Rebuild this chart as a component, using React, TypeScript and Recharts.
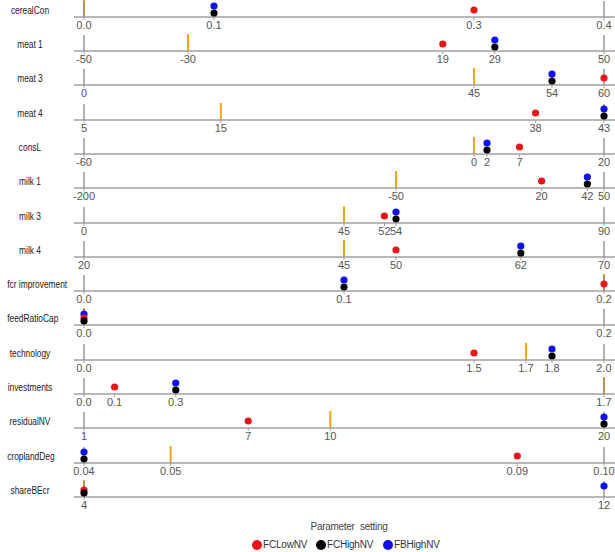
import React from 'react';
import { ScatterChart, Scatter, XAxis, YAxis, ReferenceLine } from 'recharts';

const parameters = ['cerealCon', 'meat 1', 'meat 3', 'meat 4', 'consL', 'milk 1', 'milk 3', 'milk 4', 'fcr improvement', 'feedRatioCap', 'technology', 'investments', 'residualNV', 'croplandDeg', 'shareBEcr'];
const rangeMin = [0, -50, 0, 5, -60, -200, 0, 20, 0, 0, 0, 0, 1, 0.04, 4];
const rangeMax = [0.4, 50, 60, 43, 20, 50, 90, 70, 0.2, 0.2, 2, 1.7, 20, 0.1, 12];
const baseline = [0, -30, 45, 15, 0, -50, 45, 45, 0.2, 0, 1.7, 1.7, 10, 0.05, 4];
const fcLowNV = [0.3, 19, 60, 38, 7, 20, 52, 50, 0.2, 0, 1.5, 0.1, 7, 0.09, 4];
const fcHighNV = [0.1, 29, 54, 43, 2, 42, 54, 62, 0.1, 0, 1.8, 0.3, 20, 0.04, 4];
const fbHighNV = [0.1, 29, 54, 43, 2, 42, 54, 62, 0.1, 0, 1.8, 0.3, 20, 0.04, 12];
const tickValues = [
  [0, 0.1, 0.3, 0.4],
  [-50, -30, 19, 29, 50],
  [0, 45, 54, 60],
  [5, 15, 38, 43],
  [-60, 0, 2, 7, 20],
  [-200, -50, 20, 42, 50],
  [0, 45, 52, 54, 90],
  [20, 45, 50, 62, 70],
  [0, 0.1, 0.2],
  [0, 0.2],
  [0, 1.5, 1.7, 1.8, 2],
  [0, 0.1, 0.3, 1.7],
  [1, 7, 10, 20],
  [0.04, 0.05, 0.09, 0.1],
  [4, 12],
];
const tickDecimals = [1, 0, 0, 0, 0, 0, 0, 0, 1, 1, 1, 1, 0, 2, 0];

const series = [
  { name: 'FBHighNV', values: fbHighNV, color: '#1111ee', level: 11 },
  { name: 'FCLowNV', values: fcLowNV, color: '#e8161b', level: 7 },
  { name: 'FCHighNV', values: fcHighNV, color: '#000000', level: 4 },
];
const legendOrder = ['FCLowNV', 'FCHighNV', 'FBHighNV'];
const legendItemWidths = [64, 67, 70];

const FONT = 'Liberation Sans, Arial, sans-serif';
const ROW0 = 16.7;
const ROWSTEP = 34.3;
const PLOT_H = 17;
const CHART_H = 40;

const EndTick = (p: any) => (
  <line x1={p.cx} x2={p.cx} y1={p.cy} y2={p.cy - 16} stroke="#8a8a8a" strokeWidth={1.3} />
);

function Row({ i }: { i: number }) {
  const lineY = ROW0 + i * ROWSTEP;
  const top = lineY - PLOT_H;
  const dec = tickDecimals[i];
  return (
    <>
      <div
        style={{
          position: 'absolute',
          left: 0,
          width: 60,
          top: lineY - 14,
          height: 14,
          lineHeight: '14px',
          textAlign: 'center',
          fontFamily: FONT,
          fontSize: 11,
          color: '#222',
          whiteSpace: 'nowrap',
          transform: 'scaleX(0.76)',
          transformOrigin: '30px 7px',
        }}
      >
        {parameters[i]}
      </div>
      <div style={{ position: 'absolute', left: 0, top }}>
        <ScatterChart width={615} height={CHART_H} margin={{ top: 0, right: 0, bottom: CHART_H - PLOT_H - 20, left: 74 }}>
          <XAxis
            type="number"
            dataKey="x"
            domain={[rangeMin[i], rangeMax[i]]}
            ticks={tickValues[i]}
            interval={0}
            padding={{ left: 10, right: 11 }}
            height={20}
            tickSize={3}
            tickMargin={1}
            stroke="#a0a0a0"
            axisLine={{ stroke: '#a0a0a0', strokeWidth: 1.5 }}
            tickLine={{ stroke: '#a0a0a0' }}
            tick={{ fill: '#555', fontSize: 11, fontFamily: FONT }}
            tickFormatter={(v: number) => Number(v).toFixed(dec)}
          />
          <YAxis type="number" dataKey="y" domain={[0, PLOT_H]} hide />
          <Scatter
            name="range"
            data={[{ x: rangeMin[i], y: 0 }, { x: rangeMax[i], y: 0 }]}
            isAnimationActive={false}
            shape={EndTick}
            legendType="none"
          />
          <ReferenceLine x={baseline[i]} stroke="#f5a416" strokeWidth={2} />
          {series.map((s) => (
            <Scatter
              key={s.name}
              name={s.name}
              data={[{ x: s.values[i], y: s.level }]}
              isAnimationActive={false}
              shape={(p: any) => <circle cx={p.cx} cy={p.cy} r={3.6} fill={s.color} />}
            />
          ))}
        </ScatterChart>
      </div>
    </>
  );
}

export default function App() {
  return (
    <div style={{ position: 'absolute', left: 0, top: 0, width: 615, height: 552, background: '#fff', overflow: 'hidden' }}>
      {parameters.map((_, i) => (
        <Row key={i} i={i} />
      ))}
      <div
        style={{
          position: 'absolute',
          left: 0,
          width: 698,
          top: 521,
          textAlign: 'center',
          fontFamily: FONT,
          fontSize: 10,
          letterSpacing: -0.3,
          color: '#444',
          wordSpacing: 3,
        }}
      >
        Parameter setting
      </div>
      <div
        style={{
          position: 'absolute',
          left: 252,
          top: 539,
          display: 'flex',
          alignItems: 'center',
          fontFamily: FONT,
          fontSize: 10,
          letterSpacing: -0.2,
          color: '#333',
        }}
      >
        {legendOrder.map((n, k) => {
          const s = series.find((q) => q.name === n)!;
          return (
            <div key={n} style={{ display: 'flex', alignItems: 'center', width: legendItemWidths[k] }}>
              <span style={{ display: 'inline-block', width: 10, height: 10, borderRadius: 5, background: s.color, marginRight: 1 }} />
              <span>{n}</span>
            </div>
          );
        })}
      </div>
    </div>
  );
}
